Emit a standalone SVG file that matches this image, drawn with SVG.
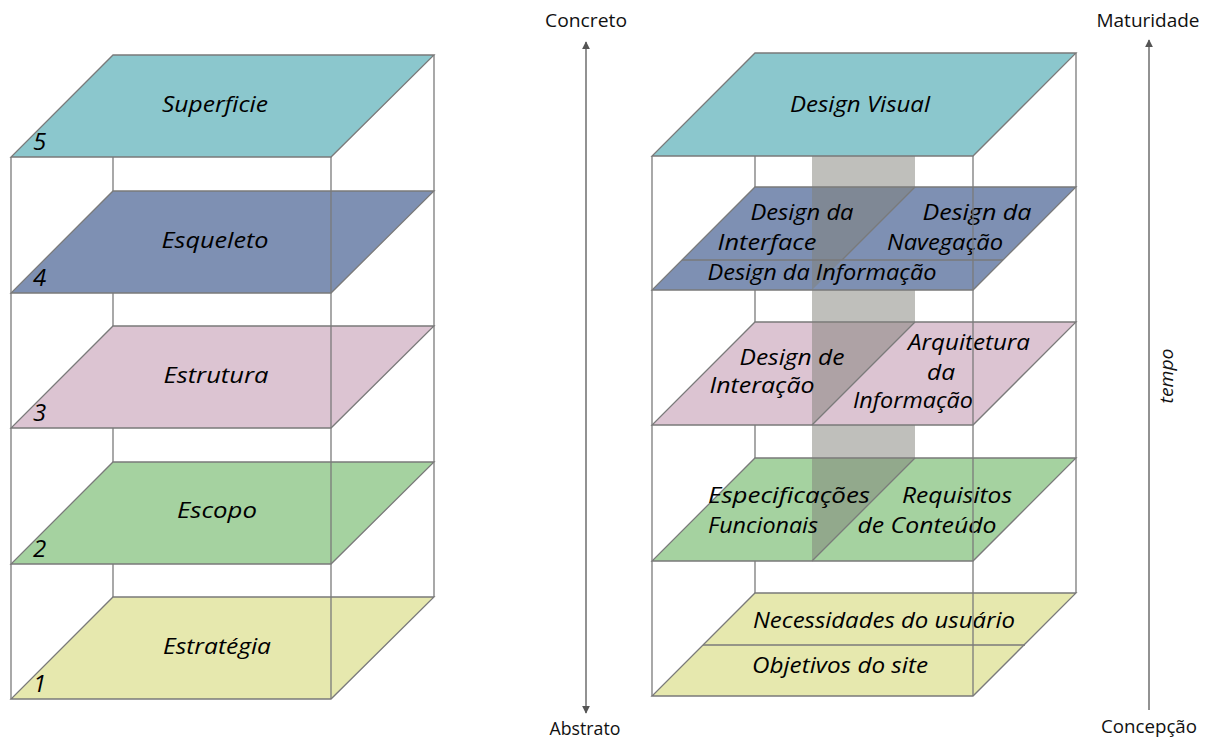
<svg xmlns="http://www.w3.org/2000/svg" width="1214" height="740" viewBox="0 0 1214 740">
<defs>
<style>
.edge{stroke:#7a7a7a;stroke-width:1.3;fill:none}
.pl{stroke:#7a7a7a;stroke-width:1.3}
.l5{fill:#8bc7cd}.l4{fill:#7e90b3}.l3{fill:#dcc4d2}.l2{fill:#a5d2a0}.l1{fill:#e6e8ae}
.lab{font-family:"Open Sans","Liberation Sans",sans-serif;font-style:italic;font-size:22px;fill:#000;text-anchor:middle}
.num{font-family:"Open Sans","Liberation Sans",sans-serif;font-style:italic;font-size:24px;fill:#000}
.ax{font-family:"Open Sans","Liberation Sans",sans-serif;font-size:18px;fill:#111;text-anchor:middle}
.wall{fill:#808078;fill-opacity:0.5}
.arr{stroke:#6e6e6e;stroke-width:1.5;fill:none}
</style>
<marker id="ah" viewBox="0 0 10 10" refX="9" refY="5" markerWidth="8" markerHeight="8" markerUnits="userSpaceOnUse" orient="auto-start-reverse">
<path d="M0,0 L10,5 L0,10 z" fill="#555"/>
</marker>
</defs>
<rect width="1214" height="740" fill="#fff"/>

<!-- LEFT STACK -->
<g id="left-stack-back">
<line class="edge" x1="113" y1="55" x2="113" y2="597"/>
<line class="edge" x1="434" y1="55" x2="434" y2="597"/>
</g>
<g id="left-layer1">
<polygon class="pl l1" points="113,597 434,597 331,699 11,699"/>
<text class="lab" x="217" y="654" textLength="108" lengthAdjust="spacingAndGlyphs">Estratégia</text>
<text class="num" x="33" y="692">1</text>
</g>
<g id="left-layer2">
<polygon class="pl l2" points="113,462 434,462 331,564 11,564"/>
<text class="lab" x="217" y="518" textLength="80" lengthAdjust="spacingAndGlyphs">Escopo</text>
<text class="num" x="33" y="557">2</text>
</g>
<g id="left-layer3">
<polygon class="pl l3" points="113,326 434,326 331,428 11,428"/>
<text class="lab" x="216" y="383" textLength="105" lengthAdjust="spacingAndGlyphs">Estrutura</text>
<text class="num" x="33" y="421">3</text>
</g>
<g id="left-layer4">
<polygon class="pl l4" points="113,191 434,191 331,293 11,293"/>
<text class="lab" x="215" y="248" textLength="107" lengthAdjust="spacingAndGlyphs">Esqueleto</text>
<text class="num" x="33" y="286">4</text>
</g>
<g id="left-layer5">
<polygon class="pl l5" points="113,55 434,55 331,157 11,157"/>
<text class="lab" x="215" y="112" textLength="106" lengthAdjust="spacingAndGlyphs">Superficie</text>
<text class="num" x="33" y="150">5</text>
</g>
<g id="left-stack-front">
<line class="edge" x1="11" y1="157" x2="11" y2="699"/>
<line class="edge" x1="331" y1="157" x2="331" y2="699"/>
</g>

<!-- RIGHT STACK -->
<g id="right-stack-back">
<line class="edge" x1="755" y1="53" x2="755" y2="593"/>
<line class="edge" x1="1076" y1="53" x2="1076" y2="593"/>
<rect class="wall" x="812" y="156" width="103" height="405"/>
</g>
<g id="right-layer1">
<polygon class="pl l1" points="755,593 1076,593 973,696 652,696"/>
<line class="edge" x1="703" y1="645" x2="1025" y2="645"/>
<text class="lab" x="884" y="628" textLength="262" lengthAdjust="spacingAndGlyphs">Necessidades do usuário</text>
<text class="lab" x="840" y="673" textLength="176" lengthAdjust="spacingAndGlyphs">Objetivos do site</text>
</g>
<g id="right-layer2">
<polygon class="pl l2" points="755,458 1076,458 973,561 652,561"/>
<polygon class="wall" points="812,458 915,458 812,561"/>
<line class="edge" x1="915" y1="458" x2="812" y2="561"/>
<text class="lab" x="789" y="503" textLength="162" lengthAdjust="spacingAndGlyphs">Especificações</text>
<text class="lab" x="763" y="533" textLength="110" lengthAdjust="spacingAndGlyphs">Funcionais</text>
<text class="lab" x="957" y="503" textLength="110" lengthAdjust="spacingAndGlyphs">Requisitos</text>
<text class="lab" x="927" y="533" textLength="139" lengthAdjust="spacingAndGlyphs">de Conteúdo</text>
</g>
<g id="right-layer3">
<polygon class="pl l3" points="755,322 1076,322 973,425 652,425"/>
<polygon class="wall" points="812,322 915,322 812,425"/>
<line class="edge" x1="915" y1="322" x2="812" y2="425"/>
<text class="lab" x="792" y="365" textLength="105" lengthAdjust="spacingAndGlyphs">Design de</text>
<text class="lab" x="762" y="393" textLength="105" lengthAdjust="spacingAndGlyphs">Interação</text>
<text class="lab" x="969" y="350" textLength="122" lengthAdjust="spacingAndGlyphs">Arquitetura</text>
<text class="lab" x="941" y="380" textLength="28" lengthAdjust="spacingAndGlyphs">da</text>
<text class="lab" x="913" y="408" textLength="120" lengthAdjust="spacingAndGlyphs">Informação</text>
</g>
<g id="right-layer4">
<polygon class="pl l4" points="755,187 1076,187 973,290 652,290"/>
<polygon class="wall" points="812,187 915,187 812,290"/>
<line class="edge" x1="682" y1="260" x2="1003" y2="260"/>
<line class="edge" x1="915" y1="187" x2="842" y2="260"/>
<text class="lab" x="802" y="220" textLength="103" lengthAdjust="spacingAndGlyphs">Design da</text>
<text class="lab" x="767" y="250" textLength="99" lengthAdjust="spacingAndGlyphs">Interface</text>
<text class="lab" x="977" y="220" textLength="109" lengthAdjust="spacingAndGlyphs">Design da</text>
<text class="lab" x="945" y="250" textLength="116" lengthAdjust="spacingAndGlyphs">Navegação</text>
<text class="lab" x="822" y="280" textLength="229" lengthAdjust="spacingAndGlyphs">Design da Informação</text>
</g>
<g id="right-layer5">
<polygon class="pl l5" points="755,53 1076,53 973,156 652,156"/>
<text class="lab" x="860" y="112" textLength="140" lengthAdjust="spacingAndGlyphs">Design Visual</text>
</g>
<g id="right-stack-front">
<line class="edge" x1="652" y1="156" x2="652" y2="696"/>
<line class="edge" x1="973" y1="156" x2="973" y2="696"/>
</g>

<!-- AXES -->
<g id="connectors">
<line class="arr" x1="586" y1="713" x2="586" y2="42" marker-start="url(#ah)" marker-end="url(#ah)"/>
<line class="arr" x1="1149" y1="710" x2="1149" y2="40" marker-end="url(#ah)"/>
</g>
<g id="axis-abstraction">
<text class="ax" x="586" y="27" textLength="82" lengthAdjust="spacingAndGlyphs">Concreto</text>
<text class="ax" x="585" y="735" textLength="71" lengthAdjust="spacingAndGlyphs">Abstrato</text>
</g>
<g id="axis-time">
<text class="ax" x="1148" y="27" textLength="103" lengthAdjust="spacingAndGlyphs">Maturidade</text>
<text class="ax" x="1149" y="733" textLength="96" lengthAdjust="spacingAndGlyphs">Concepção</text>
<text class="ax" transform="translate(1173,376) rotate(-90)" style="font-style:italic" textLength="55" lengthAdjust="spacingAndGlyphs">tempo</text>
</g>
</svg>
